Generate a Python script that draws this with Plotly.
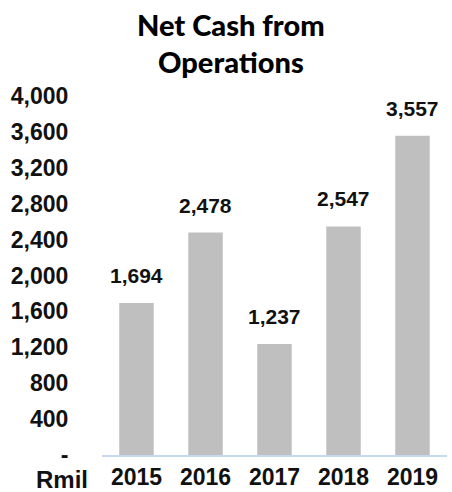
import plotly.graph_objects as go

years = ["2015", "2016", "2017", "2018", "2019"]
values = [1694, 2478, 1237, 2547, 3557]
ytick_vals = [0, 400, 800, 1200, 1600, 2000, 2400, 2800, 3200, 3600, 4000]
ytick_text = ["-", "400", "800", "1,200", "1,600", "2,000", "2,400", "2,800", "3,200", "3,600", "4,000"]
title_lines = ["Net Cash from", "Operations"]

ARIAL = "Liberation Sans, Arial, sans-serif"

fig = go.Figure()
fig.add_trace(go.Bar(x=years, y=values, marker=dict(color="#BFBFBF", line=dict(width=0))))

# data labels: category index i on the category axis
for i, v in enumerate(values):
    fig.add_annotation(x=i, y=v, xref="x", yref="y", text=f"{v:,}", showarrow=False,
                       yanchor="bottom", yshift=14,
                       font=dict(family=ARIAL, size=21, color="#111111", weight="bold"))

fig.add_annotation(xref="paper", yref="paper", x=-0.115, y=0, yshift=-24, text="Rmil",
                   showarrow=False, xanchor="center", yanchor="middle",
                   font=dict(family=ARIAL, size=24, color="#111111", weight="bold"))

for i, line in enumerate(title_lines):
    fig.add_annotation(xref="paper", yref="paper", x=(231 - 102) / 345, y=1,
                       xanchor="center", yanchor="middle",
                       text=line, showarrow=False, yshift=72 - 37 * i,
                       font=dict(family="Lato, Inter, DejaVu Sans", size=29, color="black", weight=900))

fig.update_layout(
    width=452, height=492,
    margin=dict(l=102, r=5, t=96, b=37),
    paper_bgcolor="white", plot_bgcolor="white",
    bargap=0.5, showlegend=False,
    xaxis=dict(type="category", range=[-0.5, 4.5], tickangle=0,
               showline=True, linecolor="#C5D9F1", linewidth=2, ticks="", ticklen=0,
               showgrid=False, automargin=False,
               tickfont=dict(family=ARIAL, size=23, color="#111111", weight="bold")),
    yaxis=dict(range=[0, 4000], tickvals=ytick_vals, ticktext=ytick_text,
               showgrid=False, zeroline=False, showline=False, ticks="outside", ticklen=28,
               tickcolor="white", automargin=False,
               tickfont=dict(family=ARIAL, size=23, color="#111111", weight="bold")),
)

fig.write_html("out.html")
